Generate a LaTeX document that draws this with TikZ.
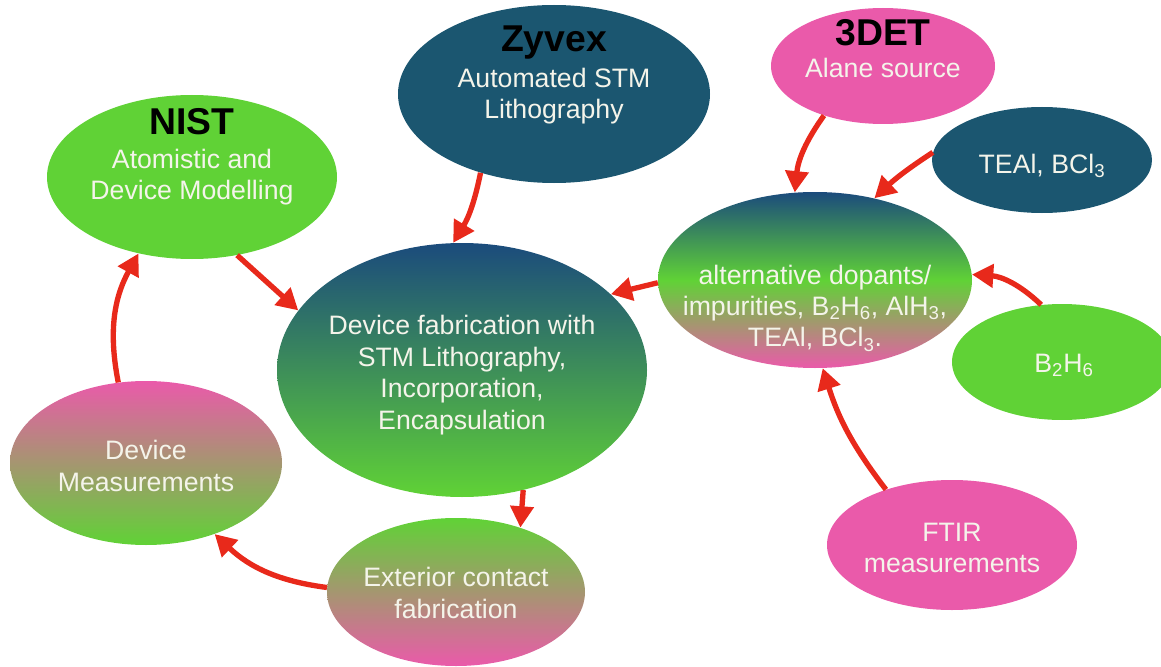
\documentclass[tikz,border=0pt]{standalone}
\usepackage{fontspec}
\setmainfont{Liberation Sans}
\usetikzlibrary{shapes.geometric,arrows.meta,positioning}

\definecolor{blobgreen}{HTML}{60D236}
\definecolor{blobteal}{HTML}{1B5670}
\definecolor{blobblue}{HTML}{1B4B7C}
\definecolor{blobpink}{HTML}{EA5AAA}
\definecolor{arrowred}{HTML}{E8291B}
\definecolor{txtwhite}{HTML}{F4F4EA}

\begin{document}
\begin{tikzpicture}[
    x=0.75pt, y=-0.75pt,
    blob/.style 2 args={
      ellipse,
      inner sep=0pt,
      minimum width=#1*1.5pt,
      minimum height=#2*1.5pt,
    },
    txt/.style={text=txtwhite, align=center, font=\fontsize{20}{23.6}\selectfont},
    head/.style={text=black, font=\fontsize{28}{30}\selectfont\bfseries},
    flow/.style={draw=arrowred, line width=4pt, -{Triangle[length=16pt,width=17pt]}},
  ]
    \useasboundingbox (0,0) rectangle (1161,667);

    % plain blobs
    \node[blob={145}{82}, fill=blobgreen] (nist) at (192,177) {};
    \node[blob={156}{89}, fill=blobteal] (zyvex) at (554,94) {};
    \node[blob={112}{58}, fill=blobpink] (det) at (883,66) {};
    \node[blob={110}{53}, fill=blobteal] (teal) at (1042,160) {};
    \node[blob={110}{58}, fill=blobgreen] (bdh) at (1062,362) {};
    \node[blob={125}{65}, fill=blobpink] (ftir) at (952,545) {};

    % shaded blobs
    \node[blob={157}{88}, top color=blobblue, bottom color=blobpink, middle color=blobgreen] (alt) at (815,280) {};
    \node[blob={185}{127}, top color=blobblue, bottom color=blobgreen] (fab) at (462,370) {};
    \node[blob={136}{82}, top color=blobpink, bottom color=blobgreen] (meas) at (146,463) {};
    \node[blob={129}{74}, top color=blobgreen, bottom color=blobpink] (ext) at (456,592) {};

    % texts
    \node[head] (nistHead) at (192,122) {NIST};
    \node[txt] (nistText) at (nist) {Atomistic and\\Device Modelling};
    \node[head] (zyvexHead) at (554,43) {Zyvex};
    \node[txt] (zyvexText) at (554,96) {Automated STM\\Lithography};
    \node[head] (detHead) at (883,33) {3DET};
    \node[txt] (detText) at (883,68) {Alane source};
    \node[txt] (tealText) at (1042,166) {TEAl, BCl\textsubscript{3}};
    \node[txt] (altText) at (815,308) {alternative dopants/\\impurities, B\textsubscript{2}H\textsubscript{6}, AlH\textsubscript{3},\\TEAl, BCl\textsubscript{3}.};
    \node[txt] (bdhText) at (1064,365) {B\textsubscript{2}H\textsubscript{6}};
    \node[txt] (ftirText) at (952,548) {FTIR\\measurements};
    \node[txt] (fabText) at (462,375) {Device fabrication with\\STM Lithography,\\Incorporation,\\Encapsulation};
    \node[txt] (measText) at (146,466) {Device\\Measurements};
    \node[txt] (extText) at (456,593) {Exterior contact\\fabrication};

    % arrows
    \draw[flow] (zyvex.-133) to[bend left=10] (fab.94);
    \draw[flow] (nist.-60) -- (fab.160);
    \draw[flow] (meas.109) to[bend left=20] (nist.-125);
    \draw[flow] (ext.178) to[bend left=18] (meas.-46);
    \draw[flow] (fab.-63) -- (ext.45);
    \draw[flow] (alt.181) -- (fab.27);
    \draw[flow] (det.-140) to[bend right=15] (alt.103);
    \draw[flow] (teal.176) to[bend right=5] (alt.54);
    \draw[flow] (bdh.110) to[bend right=20] (alt.2);
    \draw[flow] (ftir.140) to[bend left=10] (alt.-85);
  \end{tikzpicture}
\end{document}
